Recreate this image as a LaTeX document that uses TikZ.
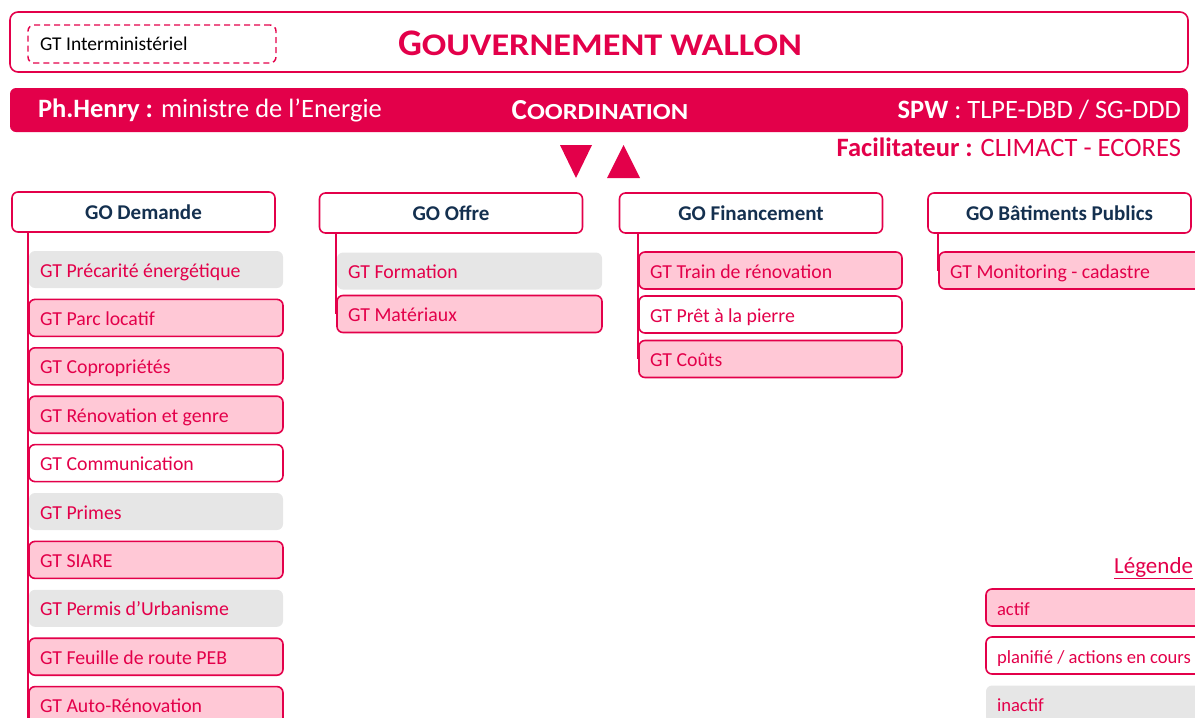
\documentclass[tikz,border=0pt]{standalone}
\usepackage{fontspec}
\usepackage{graphicx}
\setmainfont{Carlito}
\usetikzlibrary{positioning}
\definecolor{wallred}{HTML}{E3004A}
\definecolor{actifpink}{HTML}{FFC8D6}
\definecolor{inactgray}{HTML}{E6E6E6}
\definecolor{gonavy}{HTML}{14304F}
\newcommand{\fsz}[1]{\fontsize{#1}{#1}\selectfont}
\newcommand{\fakesc}[4]{{\fsz{#1}#3}\scalebox{1.15}[1]{\fsz{#2}#4}}

\begin{document}
\begin{tikzpicture}[
        x=1pt, y=-1pt,
        gtbox/.style={
          rounded corners=6pt,
          line width=1.6pt,
          minimum height=37pt,
          inner xsep=11pt,
          text height=16pt,
          text depth=1pt,
          align=flush left,
          execute at begin node={\spaceskip=0pt\xspaceskip=0pt},
          text=wallred,
          font=\fsz{19.8}
        },
        actif/.style={gtbox, draw=wallred, fill=actifpink},
        planifie/.style={gtbox, draw=wallred, fill=white},
        inactif/.style={gtbox, fill=inactgray},
        gohead/.style={
          draw=wallred,
          rounded corners=6pt,
          line width=1.6pt,
          fill=white,
          minimum width=263pt,
          minimum height=40pt,
          text=gonavy,
          font=\bfseries\fsz{21}
        },
        bartext/.style={text=white, inner sep=0pt, font=\fsz{26.5}},
        branch/.style={draw=wallred, line width=2pt}
      ]
        \useasboundingbox (0,0) rectangle (1195,718);
        \clip (0,0) rectangle (1195,718);

        % gouvernement + coordination
        \node[draw=wallred, rounded corners=8pt, line width=1.6pt, minimum width=1178pt, minimum height=60pt] (gouv) at (599,42) {};
        \node[text=wallred, font=\bfseries] (gouvtitle) at (600,43) {\fakesc{37.5}{31.5}{G}{OUVERNEMENT WALLON}};
        \node[draw=wallred, dash pattern=on 6pt off 4pt, rounded corners=6pt, line width=1.4pt, minimum height=38pt, text width=224pt, inner xsep=12pt, align=flush left, execute at begin node={\spaceskip=0pt\xspaceskip=0pt}, font=\fsz{19.5}] (interm) at (152,44) {GT Interministériel};

        \node[fill=wallred, rounded corners=6pt, minimum width=1178pt, minimum height=44pt] (coordbar) at (599,110) {};
        \node[bartext, anchor=west] (henry) at ([xshift=28pt]coordbar.west) {\textbf{Ph.Henry :} ministre de l’Energie};
        \node[bartext, font=\bfseries] (coord) at (600,110) {\fakesc{29}{23}{C}{OORDINATION}};
        \node[bartext, anchor=east] (spw) at ([xshift=-7pt]coordbar.east) {\textbf{SPW} : TLPE-DBD / SG-DDD};
        \node[bartext, anchor=north east, text=wallred] (facil) at ([yshift=-18pt]spw.south east) {\textbf{Facilitateur :} CLIMACT - ECORES};

        \fill[wallred] (560,145) -- (592,145) -- (576,178) -- cycle;
        \fill[wallred] (607,178) -- (640,178) -- (623.5,145) -- cycle;

        % groupes operationnels
        \node[gohead] (demande) at (143.5,212) {GO Demande};
        \node[gohead] (offre) at (451,213) {GO Offre};
        \node[gohead] (finance) at (751,213) {GO Financement};
        \node[gohead] (batiments) at (1059.5,213) {GO Bâtiments Publics};

        % GO Demande
        \foreach \st/\nm/\txt [count=\i] in {
            inactif/precarite/GT Précarité énergétique,
            actif/locatif/GT Parc locatif,
            actif/copro/GT Copropriétés,
            actif/genre/GT Rénovation et genre,
            planifie/communic/GT Communication,
            inactif/primes/GT Primes,
            actif/siare/GT SIARE,
            inactif/permis/GT Permis d’Urbanisme,
            actif/peb/GT Feuille de route PEB,
            actif/autoreno/GT Auto-Rénovation}
          \node[\st, text width=232pt] (\nm) at (156,{269.5+48.4*(\i-1)}) {\txt};
        \draw[branch] (precarite.west |- demande.south) -- ([yshift=-30pt]autoreno.west);

        % GO Offre
        \node[inactif, text width=243pt] (formation) at (469.5,271) {GT Formation};
        \node[actif, text width=243pt] (materiaux) at (469.5,314) {GT Matériaux};
        \draw[branch] (formation.west |- offre.south) -- (materiaux.west);

        % GO Financement
        \node[actif, text width=241pt] (train) at (770.5,270.5) {GT Train de rénovation};
        \node[planifie, text width=241pt] (pret) at (770.5,314.5) {GT Prêt à la pierre};
        \node[actif, text width=241pt] (couts) at (770.5,359) {GT Coûts};
        \draw[branch] (train.west |- finance.south) -- (couts.west);

        % GO Batiments Publics
        \node[actif, text width=248pt] (monitor) at (1074,270.5) {GT Monitoring - cadastre};
        \draw[branch] (monitor.west |- batiments.south) -- (monitor.west);

        % legende
        \node[anchor=west, text=wallred, inner sep=0pt, font=\fsz{23}] (legende) at (1114,568) {\underline{Légende}};
        \node[actif, text width=246pt, font=\fsz{18.6}] (legactif) at (1120,607.5) {actif};
        \node[planifie, text width=246pt, font=\fsz{18.6}] (legplan) at (1120,655.5) {planifié / actions en cours};
        \node[inactif, text width=246pt, font=\fsz{18.6}] (leginact) at (1120,704) {inactif};
      \end{tikzpicture}
\end{document}
